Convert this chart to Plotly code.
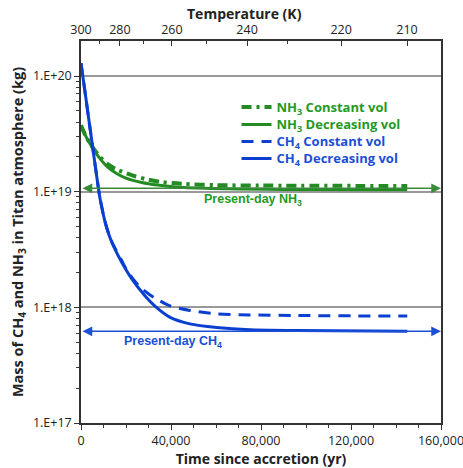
import math
import plotly.graph_objects as go

# ---------------- data ----------------
ch4_dec_t = [0, 2000, 4000, 6000, 7400, 8300, 9200, 10200, 11400, 12900, 14400, 18100, 22500, 28400, 33000, 39600, 48400, 60300, 75100, 95900, 145000]
ch4_dec_m = [1.29e20, 6.8e19, 3.55e19, 1.86e19, 1.19e19, 9.1e18, 7.4e18, 6.0e18, 4.9e18, 4.0e18, 3.4e18, 2.45e18, 1.77e18, 1.26e18, 1.02e18, 8.2e17, 7.2e17, 6.7e17, 6.4e17, 6.3e17, 6.2e17]

ch4_con_t = [0, 2000, 4000, 6000, 7400, 8300, 9200, 10200, 11400, 12900, 14400, 18000, 21000, 26200, 30700, 33600, 39600, 48400, 60300, 75100, 95900, 145000]
ch4_con_m = [1.29e20, 6.8e19, 3.55e19, 1.86e19, 1.19e19, 9.1e18, 7.4e18, 6.0e18, 4.9e18, 4.02e18, 3.45e18, 2.55e18, 2.0e18, 1.5e18, 1.28e18, 1.18e18, 1.03e18, 9.4e17, 8.8e17, 8.6e17, 8.5e17, 8.4e17]

nh3_dec_t = [0, 2000, 4000, 6000, 8000, 12000, 16000, 20000, 27000, 34000, 42000, 55000, 70000, 90000, 145000]
nh3_dec_m = [3.75e19, 3.05e19, 2.6e19, 2.25e19, 1.98e19, 1.62e19, 1.43e19, 1.31e19, 1.2e19, 1.14e19, 1.1e19, 1.07e19, 1.055e19, 1.045e19, 1.04e19]

nh3_con_t = [0, 2000, 4000, 6000, 8000, 12000, 16000, 20000, 24000, 30000, 36000, 45000, 60000, 80000, 145000]
nh3_con_m = [3.75e19, 3.05e19, 2.62e19, 2.3e19, 2.05e19, 1.72e19, 1.55e19, 1.45e19, 1.36e19, 1.27e19, 1.21e19, 1.17e19, 1.14e19, 1.13e19, 1.12e19]

present_nh3 = 1.07e19
present_ch4 = 6.2e17
arrow_span = [0, 160000]

x_ticks = [0, 40000, 80000, 120000, 160000]
x_ticktext = ["0", "40,000", "80,000", "120,000", "160,000"]
x_minor = [10000, 20000, 30000, 50000, 60000, 70000, 90000, 100000, 110000, 130000, 140000, 150000]

y_ticks = [1e17, 1e18, 1e19, 1e20]
y_ticktext = ["1.E+17", "1.E+18", "1.E+19", "1.E+20"]
y_minor = [float(k) * 10.0 ** e for e in (17, 18, 19) for k in range(2, 10)]

temp_labels = ["300", "280", "260", "240", "220", "210"]
temp_tick_times = [0, 17300, 40400, 73800, 115600, 144900]
temp_minor_times = [8000, 27600, 55600, 91600]

GREEN = "#228b22"
GREEN_T = "#1f9a1f"
BLUE = "#0a3fd0"
BLUE_T = "#1a4fd6"
FONT = "Open Sans"

fig = go.Figure()

series = [
    (nh3_con_t, nh3_con_m, GREEN, 4, "10px,5px,3px,5px", GREEN_T, "NH<sub>3</sub> Constant vol", "legend"),
    (nh3_dec_t, nh3_dec_m, GREEN, 3, "solid", GREEN_T, "NH<sub>3</sub> Decreasing vol", "legend2"),
    (ch4_con_t, ch4_con_m, BLUE, 3, "12px,8px", BLUE_T, "CH<sub>4</sub> Constant vol", "legend3"),
    (ch4_dec_t, ch4_dec_m, BLUE, 3, "solid", BLUE_T, "CH<sub>4</sub> Decreasing vol", "legend4"),
]
for t, m, col, w, dash, tcol, name, lg in series:
    fig.add_trace(go.Scatter(
        x=t, y=m, mode="lines", line_shape="spline", line_smoothing=0.8,
        line=dict(color=col, width=w, dash=dash), legend=lg,
        name=f"<span style='color:{tcol}'><b>{name}</b></span>"))

# invisible trace to anchor top axis
fig.add_trace(go.Scatter(x=[temp_tick_times[0]], y=[y_ticks[1]], xaxis="x2", mode="markers",
                         marker=dict(opacity=0), showlegend=False, hoverinfo="skip"))

for val, col, tcol, label, lx, shift in [
    (present_nh3, "#3a8a3a", GREEN_T, "Present-day NH<sub>3</sub>", 76400, -12),
    (present_ch4, "#1a4fd6", BLUE_T, "Present-day CH<sub>4</sub>", 40900, -11),
]:
    fig.add_annotation(x=arrow_span[1], y=math.log10(val), ax=arrow_span[0], ay=math.log10(val),
                       xref="x", yref="y", axref="x", ayref="y", text="", showarrow=True,
                       arrowhead=2, arrowside="end+start", arrowsize=1.3, arrowwidth=1.5,
                       arrowcolor=col)
    fig.add_annotation(x=lx, y=math.log10(val), xref="x", yref="y", text=f"<b>{label}</b>",
                       showarrow=False, yshift=shift,
                       font=dict(family="Liberation Sans", size=12.5, color=tcol))

# top axis title
fig.add_annotation(x=0.455, y=1, xref="paper", yref="paper", text="<b>Temperature (K)</b>",
                   showarrow=False, yanchor="middle", yshift=27.5,
                   font=dict(family=FONT, size=14, color="#222"))

leg_common = dict(x=0.432, xanchor="left", yanchor="middle", bgcolor="rgba(0,0,0,0)",
                  font=dict(family=FONT, size=13), itemwidth=30)

fig.update_layout(
    width=463, height=468,
    margin=dict(l=81, r=22, t=41, b=45, autoexpand=False),
    paper_bgcolor="white", plot_bgcolor="white",
    font=dict(family=FONT, size=12, color="#222"),
    showlegend=True,
    legend=dict(y=0.827, **leg_common),
    legend2=dict(y=0.7815, **leg_common),
    legend3=dict(y=0.737, **leg_common),
    legend4=dict(y=0.6925, **leg_common),
    xaxis=dict(range=[0, 160000], tickmode="array", tickvals=x_ticks, ticktext=x_ticktext,
               ticks="outside", ticklen=5, tickwidth=1.2, tickcolor="#333",
               showline=True, linecolor="#333", linewidth=1.5, mirror=False,
               showgrid=False, zeroline=False, automargin=False, ticklabeloverflow="allow",
               minor=dict(tickmode="array", tickvals=x_minor, ticks="outside", ticklen=3,
                          tickcolor="#333", showgrid=False),
               title=dict(text="<b>Time since accretion (yr)</b>", font=dict(size=14), standoff=4),
               tickfont=dict(size=12.5)),
    xaxis2=dict(overlaying="x", side="top", range=[0, 160000], tickmode="array",
                tickvals=temp_tick_times, ticktext=temp_labels,
                ticks="inside", ticklen=5, tickwidth=1.2, tickcolor="#333",
                showline=True, linecolor="#333", linewidth=1.5,
                showgrid=False, zeroline=False, automargin=False, ticklabeloverflow="allow",
                minor=dict(tickmode="array", tickvals=temp_minor_times, ticks="inside",
                           ticklen=3, tickcolor="#333", showgrid=False),
                tickfont=dict(size=12.5)),
    yaxis=dict(type="log", range=[17, 20.303], tickmode="array", tickvals=y_ticks,
               ticktext=y_ticktext, ticks="outside", ticklen=5, tickwidth=1.2, tickcolor="#333",
               showline=True, linecolor="#333", linewidth=1.5, mirror=True,
               showgrid=True, gridcolor="#999", gridwidth=1.5, zeroline=False, automargin=False,
               minor=dict(tickmode="array", tickvals=y_minor, ticks="outside", ticklen=3,
                          tickcolor="#333", showgrid=False),
               title=dict(text="<b>Mass of CH<sub>4</sub> and NH<sub>3</sub> in Titan atmosphere (kg)</b>",
                          font=dict(size=14.5), standoff=6),
               tickfont=dict(size=12.5)),
)

fig.write_html("out.html", config={"displayModeBar": False},
               post_script="document.body.style.margin='0';")
